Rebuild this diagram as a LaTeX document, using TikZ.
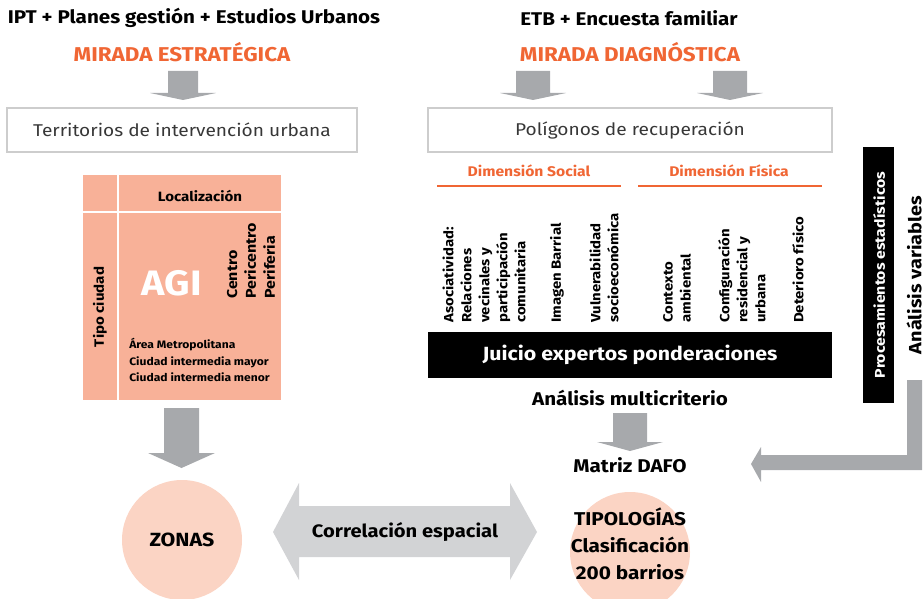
\documentclass[tikz,border=0pt]{standalone}
\usepackage{fontspec}
\setmainfont{Fira Sans}[FakeStretch=1.12]
\usetikzlibrary{positioning}
\definecolor{naranja}{RGB}{240,102,52}
\definecolor{salmon}{RGB}{248,177,152}
\definecolor{rosado}{RGB}{251,212,196}
\definecolor{grisflecha}{RGB}{167,169,172}
\definecolor{grisclaro}{RGB}{210,211,213}
\definecolor{grisborde}{RGB}{205,205,205}
\definecolor{gristexto}{RGB}{55,55,55}
% flecha gruesa hacia abajo: x centro, y arriba, y cuello, y punta, medio ancho fuste, medio ancho cabeza
\newcommand{\bajada}[6]{\fill[grisflecha]({#1-#5},#2)--({#1+#5},#2)--({#1+#5},#3)--({#1+#6},#3)--(#1,#4)--({#1-#6},#3)--({#1-#5},#3)--cycle;}
\tikzset{
  titulo/.style={font=\bfseries\fontsize{13.8}{16}\selectfont},
  mirada/.style={font=\bfseries\fontsize{15}{17}\selectfont,text=naranja},
  caja/.style={draw=grisborde,line width=1.5pt,minimum height=33pt,inner sep=0pt,text=gristexto,font=\fontsize{12.8}{15}\selectfont},
  dimension/.style={font=\bfseries\fontsize{10.5}{12}\selectfont,text=naranja},
  vartexto/.style={rotate=90,anchor=west,align=left,inner sep=0pt,font=\bfseries\fontsize{10}{13.5}\selectfont},
  negrita/.style={font=\bfseries\fontsize{13.8}{16}\selectfont},
  circulo/.style={circle,fill=rosado,minimum size=90pt,inner sep=0pt}
}
\begin{document}
\begin{tikzpicture}[x=0.75pt,y=-0.75pt]
\useasboundingbox (0,0) rectangle (924,599);
% cabeceras
\node[titulo] (ipt) at (194,18) {IPT + Planes gestión + Estudios Urbanos};
\node[mirada] (estrategica) at (182,52) {MIRADA ESTRATÉGICA};
\node[titulo] (etb) at (629,18) {ETB + Encuesta familiar};
\node[mirada] (diagnostica) at (630,52) {MIRADA DIAGNÓSTICA};
\bajada{183}{71}{93}{100}{15}{33}
\bajada{533}{71}{93}{100}{17}{33}
\bajada{730}{71}{93}{100}{17}{33}
\node[caja,minimum width=262pt] (territorios) at (182,130) {Territorios de intervención urbana};
\node[caja,minimum width=303pt] (poligonos) at (630,130) {Polígonos de recuperación};
% bloque AGI
\fill[salmon] (83,175) rectangle (281,400);
\draw[white,line width=1.5pt] (118,175)--(118,400) (83,212)--(281,212);
\node[font=\bfseries\fontsize{10.1}{12}\selectfont] (localizacion) at (200,196) {Localización};
\node[rotate=90,font=\bfseries\fontsize{10.1}{12}\selectfont] (tipo) at (100,307) {Tipo ciudad};
\node[text=white,font=\bfseries\fontsize{26.5}{30}\selectfont] (agi) at (172,283) {AGI};
\node[vartexto,font=\bfseries\fontsize{10.7}{14.2}\selectfont] (centro) at (251,299) {Centro\\Pericentro\\Periferia};
\node[anchor=north west,align=left,inner sep=0pt,font=\bfseries\fontsize{8.1}{12.4}\selectfont] (ciudades) at (129,338) {Área Metropolitana\\Ciudad intermedia mayor\\Ciudad intermedia menor};
\bajada{181.5}{408}{453}{468}{17.5}{33.5}
% dimensiones
\node[dimension] (social) at (529,171) {Dimensión Social};
\node[dimension] (fisica) at (729,171) {Dimensión Física};
\draw[naranja,line width=1.5pt] (437,186)--(621,186) (638,186)--(822,186);
\node[vartexto] (asociatividad) at (484,323) {Asociatividad:\\Relaciones\\vecinales y\\participación\\comunitaria};
\node[vartexto] (imagen) at (557,323) {Imagen Barrial};
\node[vartexto] (vulnerabilidad) at (604,323) {Vulnerabilidad\\socioeconómica};
\node[vartexto] (contexto) at (677,323) {Contexto\\ambiental};
\node[vartexto] (configuracion) at (742,323) {Configuración\\residencial y\\urbana};
\node[vartexto] (deterioro) at (798,323) {Deterioro físico};
\node[fill=black,text=white,minimum width=303pt,minimum height=34.5pt,inner sep=0pt,font=\bfseries\fontsize{14.3}{18}\selectfont] (juicio) at (630,355) {Juicio expertos ponderaciones};
\node[negrita] (multicriterio) at (630,398) {Análisis multicriterio};
\bajada{630}{413}{442}{451}{17}{33}
\node[negrita] (dafo) at (630,465) {Matriz DAFO};
% procesamientos
\fill[black] (863,147) rectangle (894,403);
\node[rotate=90,text=white,font=\bfseries\fontsize{10.6}{12}\selectfont] (procesamientos) at (879,275) {Procesamientos estadísticos};
\node[rotate=90,inner sep=0pt,font=\bfseries\fontsize{13.3}{16}\selectfont] (variables) at (914,275) {Análisis variables};
\fill[grisflecha] (907,380)--(922,380)--(922,470)--(761,470)--(761,482)--(751,464)--(761,447)--(761,455)--(907,455)--cycle;
% resultados
\node[circulo] (zonas) at (182,540) {};
\node[negrita,font=\bfseries\fontsize{14.3}{16}\selectfont] at (zonas) {ZONAS};
\node[circulo] (tipologias) at (630,552) {};
\node[align=center,font=\bfseries\fontsize{13.9}{20.3}\selectfont] (tipotexto) at (630,544) {TIPOLOGÍAS\\Clasificación\\200 barrios};
\fill[grisclaro] (273,532)--(299,483)--(299,506)--(510,506)--(510,483)--(537,532)--(510,580)--(510,557)--(299,557)--(299,580)--cycle;
\node[font=\bfseries\fontsize{13.5}{16}\selectfont] (correlacion) at (405,532) {Correlación espacial};
\end{tikzpicture}
\end{document}
